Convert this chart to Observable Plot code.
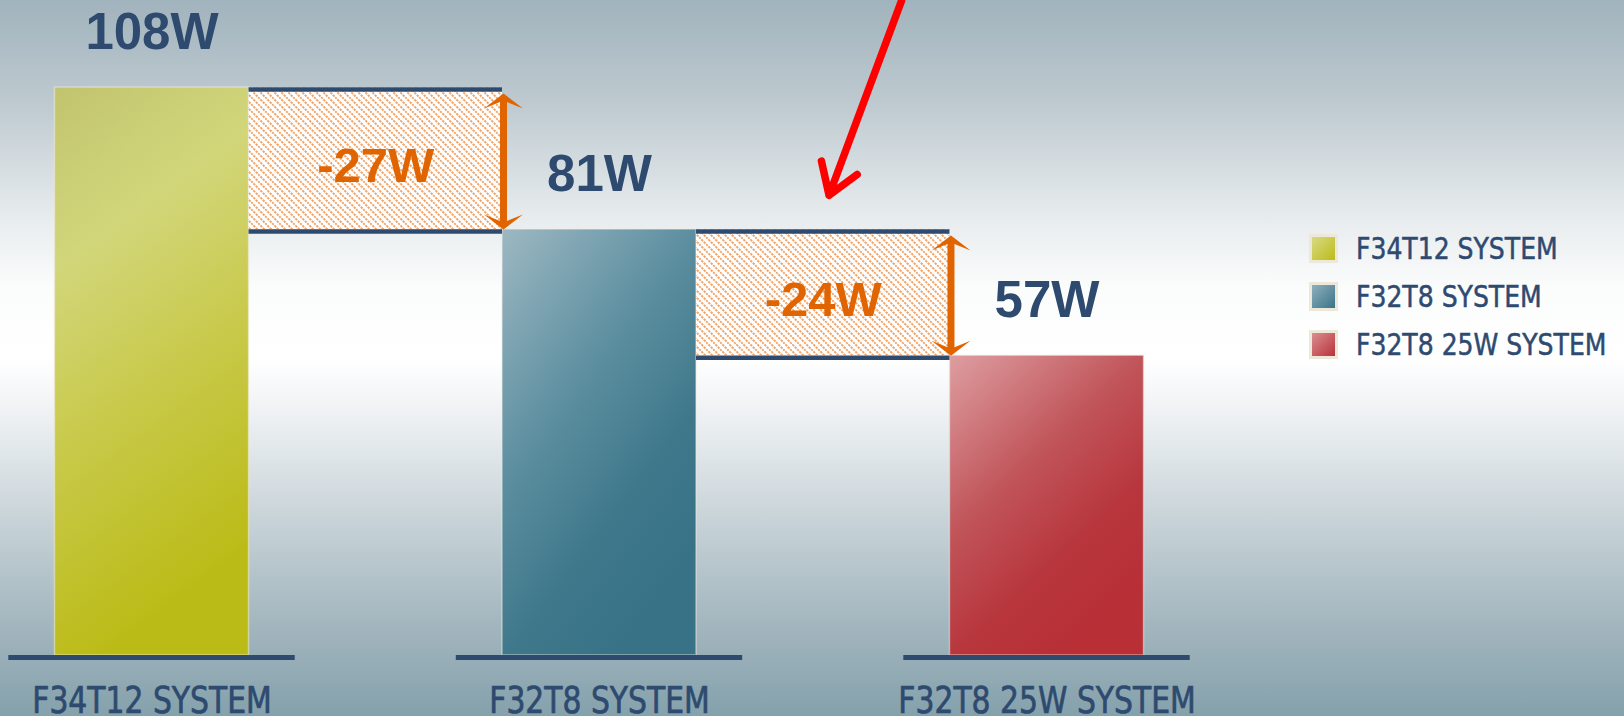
<!DOCTYPE html>
<html>
<head>
<meta charset="utf-8">
<script src="https://cdn.jsdelivr.net/npm/d3@7"></script>
<script src="https://cdn.jsdelivr.net/npm/@observablehq/plot@0.6"></script>
<style>
  html, body { margin: 0; padding: 0; }
  body {
    width: 1624px; height: 716px; overflow: hidden; position: relative;
    background: linear-gradient(to bottom, #a1b3bd 0%, #bdc9cf 14%, #e6ebed 30%, #fbfcfc 40%, #ffffff 50%, #eef1f3 58%, #c9d4d9 72%, #a6b8c0 86%, #84a1ac 100%);
  }
  #chart svg { display: block; }
  .legend {
    position: absolute; left: 1309px; top: 233px;
    font-family: "DejaVu Sans Condensed", "Liberation Sans Narrow", sans-serif;
    font-size: 31px; color: #2e4a70; white-space: nowrap;
    -webkit-text-stroke: 0.5px #2e4a70;
  }
  .row { display: flex; align-items: center; height: 30px; margin-bottom: 18px; }
  .sw { width: 23px; height: 23px; border: 3px solid #eee8da; margin-right: 18px; box-sizing: content-box; flex: none; -webkit-text-stroke: 0; }
  .row span { display: inline-block; transform: scaleX(0.9); transform-origin: left center; }
</style>
</head>
<body>
<div id="chart"></div>
<div class="legend" id="legend"></div>
<script>
// ---- data ----
const categories = ["F34T12 SYSTEM", "F32T8 SYSTEM", "F32T8 25W SYSTEM"];
const watts = [108, 81, 57];
const deltas = [-27, -24];
const deltaLabels = ["-27W", "-24W"];
const pointer = [{x1: 1.675, y1: 124.5, x2: 1.513, y2: 87.5}];
const swatchGradients = [
  "linear-gradient(135deg, #d8da84, #bcbc18)",
  "linear-gradient(135deg, #8fb0bc, #3a7488)",
  "linear-gradient(135deg, #da8e92, #b9323a)"
];

// ---- layout constants ----
const half = 0.2168;      // half bar width in x units
const baseHalf = 0.32;    // half baseline width
const navy = "#2e4a6e";
const orange = "#e06400";

const bars = watts.map((v, i) => ({i, v, label: categories[i]}));
const steps = deltas.map((d, i) => ({
  i, top: watts[i], bottom: watts[i + 1], label: deltaLabels[i],
  x1: i + half, x2: i + 1 - half, mid: (watts[i] + watts[i + 1]) / 2
}));

const upHead = {
  draw(ctx) {
    ctx.moveTo(0, 0); ctx.lineTo(19.5, 15); ctx.lineTo(3.5, 8.5);
    ctx.lineTo(-3.5, 8.5); ctx.lineTo(-19.5, 15); ctx.closePath();
  }
};
const downHead = {
  draw(ctx) {
    ctx.moveTo(0, 0); ctx.lineTo(19.5, -15); ctx.lineTo(3.5, -8.5);
    ctx.lineTo(-3.5, -8.5); ctx.lineTo(-19.5, -15); ctx.closePath();
  }
};

const defs = () => {
  const g = document.createElementNS("http://www.w3.org/2000/svg", "defs");
  g.innerHTML = `
    <linearGradient id="bar0" x1="0" y1="0" x2="0.25" y2="1">
      <stop offset="0" stop-color="#c1c46e"/>
      <stop offset="0.3" stop-color="#d2d67a"/>
      <stop offset="0.65" stop-color="#c7c845"/>
      <stop offset="1" stop-color="#bbbb17"/>
    </linearGradient>
    <linearGradient id="bar1" x1="0" y1="0" x2="0.6" y2="1">
      <stop offset="0" stop-color="#9db8c2"/>
      <stop offset="0.45" stop-color="#5b8e9f"/>
      <stop offset="0.75" stop-color="#3f788b"/>
      <stop offset="1" stop-color="#387286"/>
    </linearGradient>
    <linearGradient id="bar2" x1="0" y1="0" x2="0.6" y2="1">
      <stop offset="0" stop-color="#de9ea1"/>
      <stop offset="0.45" stop-color="#c05459"/>
      <stop offset="0.75" stop-color="#b8363d"/>
      <stop offset="1" stop-color="#b82f36"/>
    </linearGradient>
    <pattern id="hatch" patternUnits="userSpaceOnUse" width="7" height="7">
      <rect width="7" height="7" fill="#ffffff"/>
      <path d="M-1,-1 L8,8 M-1,6 L1,8 M6,-1 L8,1" stroke="#f2a264" stroke-width="1.9" stroke-dasharray="2.4 1"/>
    </pattern>`;
  return g;
};

const chart = Plot.plot({
  width: 1624,
  height: 716,
  margin: 0,
  style: {background: "transparent", overflow: "visible"},
  x: {type: "linear", domain: [0, 2], range: [151.5, 1046.5], axis: null},
  y: {type: "linear", domain: [0, 108], range: [655, 87], axis: null},
  color: {type: "identity"},
  marks: [
    defs,
    // bars
    Plot.rect(bars, {
      x1: d => d.i - half, x2: d => d.i + half, y1: 0, y2: d => d.v,
      fill: d => `url(#bar${d.i})`, stroke: "#f4eee6", strokeOpacity: 0.5, strokeWidth: 1.5
    }),
    // hatched difference boxes
    Plot.rect(steps, {
      x1: "x1", x2: "x2", y1: "bottom", y2: "top", fill: () => "url(#hatch)"
    }),
    // navy top/bottom lines of step boxes
    Plot.ruleY(steps, {y: "top", x1: "x1", x2: "x2", stroke: navy, strokeWidth: 4.5, dy: 2}),
    Plot.ruleY(steps, {y: "bottom", x1: "x1", x2: "x2", stroke: navy, strokeWidth: 4.5, dy: 2}),
    // baselines
    Plot.ruleY(bars, {y: 0, x1: d => d.i - baseHalf, x2: d => d.i + baseHalf, stroke: navy, strokeWidth: 5, dy: 2}),
    // orange double arrows
    Plot.ruleX(steps, {x: "x2", y1: "top", y2: "bottom", stroke: orange, strokeWidth: 7, dx: 1, insetTop: 12, insetBottom: 6}),
    Plot.dot(steps, {x: "x2", y: "top", symbol: upHead, fill: orange, r: 10, dx: 1, dy: 6}),
    Plot.dot(steps, {x: "x2", y: "bottom", symbol: downHead, fill: orange, r: 10, dx: 1, dy: 0}),
    // value labels
    Plot.text(bars, {
      x: "i", y: "v", text: d => `${d.v}W`, dy: -55,
      fontSize: 51, fontWeight: "bold", fill: navy,
      fontFamily: "'Liberation Sans', Arial, sans-serif"
    }),
    // delta labels
    Plot.text(steps, {
      x: d => (d.x1 + d.x2) / 2, y: "mid", text: "label", dy: 8,
      fontSize: 49, fontWeight: "bold", fill: orange,
      fontFamily: "'Liberation Sans', Arial, sans-serif"
    }),
    // category labels
    Plot.text(bars, {
      x: "i", y: 0, text: "label", dy: 45,
      fontSize: 38, fill: navy, stroke: navy, strokeWidth: 0.7,
      fontFamily: "'DejaVu Sans Condensed', 'Liberation Sans Narrow', sans-serif"
    }),
    // red pointer arrow
    Plot.arrow(pointer, {
      x1: "x1", y1: "y1", x2: "x2", y2: "y2",
      stroke: "#ff0000", strokeWidth: 7.5, headLength: 7, headAngle: 66,
      strokeLinecap: "round", strokeLinejoin: "round"
    })
  ]
});
document.getElementById("chart").appendChild(chart);

// compress category labels horizontally (narrow typeface look)
chart.querySelectorAll("text").forEach(t => {
  if (categories.includes(t.textContent)) {
    const len = t.getComputedTextLength();
    t.setAttribute("textLength", (len * 0.872).toFixed(1));
    t.setAttribute("lengthAdjust", "spacingAndGlyphs");
  }
});

// legend
const legend = document.getElementById("legend");
categories.forEach((c, i) => {
  const row = document.createElement("div");
  row.className = "row";
  const sw = document.createElement("div");
  sw.className = "sw";
  sw.style.background = swatchGradients[i];
  const t = document.createElement("span");
  t.textContent = c;
  row.appendChild(sw); row.appendChild(t);
  legend.appendChild(row);
});
</script>
</body>
</html>
